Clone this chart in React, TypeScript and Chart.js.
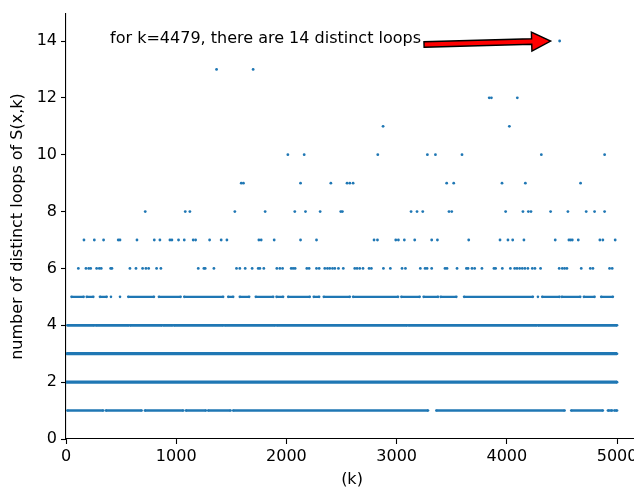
import React, { useEffect, useRef } from "react";
import { Chart, registerables } from "chart.js";

Chart.register(...registerables);

// ---- data ----
// dense levels: runs [firstK, lastK] where the row of points is continuous
const LEVEL_1_RUNS: [number, number][] = [[12, 338], [362, 686], [716, 1064], [1088, 1269], [1290, 1493], [1517, 3285], [3360, 4524], [4584, 4871], [4917, 4955], [4975, 5000]];
const LEVEL_2_RUNS: [number, number][] = [[2, 5000]];
const LEVEL_3_RUNS: [number, number][] = [[3, 5000]];
const LEVEL_4_RUNS: [number, number][] = [[12, 258], [268, 570], [580, 872], [882, 968], [978, 1428], [1438, 1900], [1910, 3096], [3106, 4272], [4282, 5000]];
const LEVEL_5_RUNS: [number, number][] = [[50, 160], [188, 248], [308, 369], [408, 408], [490, 490], [565, 798], [843, 1040], [1073, 1426], [1472, 1517], [1577, 1662], [1722, 1880], [1910, 1970], [2016, 2212], [2248, 2297], [2339, 2575], [2605, 3013], [3043, 3209], [3245, 3376], [3400, 3542], [3612, 4236], [4282, 4282], [4321, 4478], [4499, 4666], [4699, 4796], [4856, 4962]];

// sparse levels: k values of individual points
const LEVEL_6_K = [112, 181, 206, 224, 278, 302, 320, 405, 417, 580, 635, 695, 725, 750, 822, 861, 1200, 1251, 1263, 1342, 1547, 1577, 1626, 1689, 1744, 1759, 1795, 1913, 1940, 1965, 2043, 2061, 2079, 2185, 2206, 2273, 2297, 2348, 2372, 2393, 2418, 2439, 2472, 2516, 2620, 2641, 2665, 2695, 2750, 2771, 2880, 2943, 3049, 3080, 3215, 3258, 3276, 3318, 3439, 3457, 3548, 3633, 3648, 3684, 3708, 3774, 3883, 3898, 3959, 4032, 4071, 4092, 4116, 4140, 4164, 4191, 4231, 4255, 4306, 4475, 4503, 4524, 4545, 4675, 4757, 4781, 4932, 4956];
const LEVEL_7_K = [163, 257, 341, 474, 490, 644, 801, 852, 943, 961, 1021, 1073, 1154, 1176, 1303, 1408, 1460, 1750, 1771, 1889, 2128, 2273, 2795, 2826, 2992, 3016, 3070, 3164, 3318, 3370, 3654, 3938, 4010, 4053, 4155, 4439, 4563, 4578, 4594, 4648, 4844, 4871, 4983];
const LEVEL_8_K = [719, 1082, 1124, 1532, 1807, 2076, 2173, 2306, 2493, 2508, 3131, 3185, 3237, 3475, 3500, 3989, 4146, 4195, 4219, 4397, 4554, 4720, 4796, 4887];
const LEVEL_9_K = [1590, 1610, 2128, 2403, 2550, 2575, 2605, 3454, 3518, 3956, 4168, 4669];
const LEVEL_10_K = [2013, 2161, 2829, 3279, 3352, 3593, 4313, 4887];
const LEVEL_11_K = [2877, 4023];
const LEVEL_12_K = [3840, 3860, 4095];
const LEVEL_13_K = [1366, 1698];
const LEVEL_14_K = [4479];

const X_TICKS = [0, 1000, 2000, 3000, 4000, 5000];
const Y_TICKS = [0, 2, 4, 6, 8, 10, 12, 14];

const ANNOTATION_TEXT = "for k=4479, there are 14 distinct loops";
const ANNOTATION_TEXT_AT = { x: 400, y: 14 };
const ANNOTATION_TARGET = { x: 4479, y: 14 };

const X_LABEL = "(k)";
const Y_LABEL = "number of distinct loops of S(x,k)";

const BLUE = "#1f77b4";
const FONT = "DejaVu Sans";
const FS = 16;

function runsToLine(runs: [number, number][], level: number) {
  const pts: { x: number; y: number | null }[] = [];
  runs.forEach(([a, b], i) => {
    if (i > 0) pts.push({ x: a, y: null });
    pts.push({ x: a, y: level });
    if (b !== a) pts.push({ x: b, y: level });
  });
  return pts;
}

const annotationPlugin = {
  id: "kAnnotation",
  afterDatasetsDraw(chart: any) {
    const { ctx, scales } = chart;
    const xs = scales.x, ys = scales.y;
    const tx = xs.getPixelForValue(ANNOTATION_TEXT_AT.x);
    const ty = ys.getPixelForValue(ANNOTATION_TEXT_AT.y);
    ctx.save();
    ctx.font = `${FS}px "${FONT}"`;
    ctx.fillStyle = "#000";
    ctx.textBaseline = "alphabetic";
    ctx.textAlign = "left";
    ctx.fillText(ANNOTATION_TEXT, tx, ty + 1.5);
    const w = ctx.measureText(ANNOTATION_TEXT).width;
    const x0 = tx + w + 3, y0 = ty + 3.5;
    const px = xs.getPixelForValue(ANNOTATION_TARGET.x);
    const py = ys.getPixelForValue(ANNOTATION_TARGET.y);
    const x1 = px - 9, y1 = py;
    const dx = x1 - x0, dy = y1 - y0;
    const len = Math.hypot(dx, dy);
    const ux = dx / len, uy = dy / len;
    const nx = -uy, ny = ux;
    const sw = 2.8, hw = 9.5, hl = 19;
    const bx = x1 - ux * hl, by = y1 - uy * hl;
    ctx.beginPath();
    ctx.moveTo(x0 + nx * sw, y0 + ny * sw);
    ctx.lineTo(bx + nx * sw, by + ny * sw);
    ctx.lineTo(bx + nx * hw, by + ny * hw);
    ctx.lineTo(x1, y1);
    ctx.lineTo(bx - nx * hw, by - ny * hw);
    ctx.lineTo(bx - nx * sw, by - ny * sw);
    ctx.lineTo(x0 - nx * sw, y0 - ny * sw);
    ctx.closePath();
    ctx.fillStyle = "#ff0000";
    ctx.fill();
    ctx.lineWidth = 1.4;
    ctx.strokeStyle = "#000";
    ctx.lineJoin = "miter";
    ctx.stroke();
    ctx.restore();
  },
};

export default function App() {
  const ref = useRef<HTMLCanvasElement | null>(null);
  useEffect(() => {
    if (!ref.current) return;
    Chart.defaults.font.family = FONT;
    Chart.defaults.font.size = FS;
    Chart.defaults.color = "#000";

    const sparse: { x: number; y: number }[] = [];
    const sparseLevels: [number, number[]][] = [
      [6, LEVEL_6_K], [7, LEVEL_7_K], [8, LEVEL_8_K], [9, LEVEL_9_K], [10, LEVEL_10_K],
      [11, LEVEL_11_K], [12, LEVEL_12_K], [13, LEVEL_13_K], [14, LEVEL_14_K],
    ];
    sparseLevels.forEach(([lvl, ks]) => ks.forEach((k) => sparse.push({ x: k, y: lvl })));

    const dense: [number, [number, number][], number][] = [
      [1, LEVEL_1_RUNS, 2.4], [2, LEVEL_2_RUNS, 3.2], [3, LEVEL_3_RUNS, 3.2],
      [4, LEVEL_4_RUNS, 2.8], [5, LEVEL_5_RUNS, 2.4],
    ];

    const datasets: any[] = dense.map(([lvl, runs, w]) => ({
      data: runsToLine(runs, lvl),
      showLine: true,
      spanGaps: false,
      borderColor: BLUE,
      backgroundColor: BLUE,
      borderWidth: w,
      pointRadius: 1.3,
      pointHoverRadius: 0,
      pointBorderWidth: 0,
    }));
    datasets.push({
      data: sparse,
      showLine: false,
      borderColor: BLUE,
      backgroundColor: BLUE,
      pointRadius: 1.4,
      pointHoverRadius: 0,
      pointBorderWidth: 0,
    });

    const chart = new Chart(ref.current, {
      type: "scatter",
      data: { datasets },
      options: {
        animation: false,
        responsive: false,
        events: [],
        layout: { autoPadding: false, padding: { top: 14, right: 0, left: 0, bottom: 0 } },
        plugins: { legend: { display: false }, tooltip: { enabled: false } },
        scales: {
          x: {
            type: "linear",
            min: 0,
            max: 5190,
            afterBuildTicks: (s: any) => { s.ticks = X_TICKS.map((v) => ({ value: v })); },
            afterFit: (s: any) => { s.height = 50; s.paddingRight = 0; s.paddingLeft = 0; },
            ticks: { padding: 3, maxRotation: 0, callback: (v: any) => String(v) },
            grid: { drawOnChartArea: false, drawTicks: true, tickLength: 5, color: "#000", tickWidth: 1.1 },
            border: { display: true, color: "#000", width: 1.1 },
            title: { display: true, text: X_LABEL, padding: { top: 0, bottom: 0 } },
          },
          y: {
            type: "linear",
            min: 0,
            max: 14.95,
            afterBuildTicks: (s: any) => { s.ticks = Y_TICKS.map((v) => ({ value: v })); },
            afterFit: (s: any) => { s.width = 66; },
            ticks: { padding: 4, callback: (v: any) => String(v) },
            grid: { drawOnChartArea: false, drawTicks: true, tickLength: 5, color: "#000", tickWidth: 1.1 },
            border: { display: true, color: "#000", width: 1.1 },
            title: { display: true, text: Y_LABEL, padding: { top: 8, bottom: 0 } },
          },
        },
      },
      plugins: [annotationPlugin],
    });
    return () => chart.destroy();
  }, []);

  return (
    <div style={{ position: "absolute", left: 0, top: 0, width: 634, height: 489, overflow: "hidden", background: "#fff" }}>
      <canvas ref={ref} width={638} height={489} style={{ display: "block" }} />
    </div>
  );
}
